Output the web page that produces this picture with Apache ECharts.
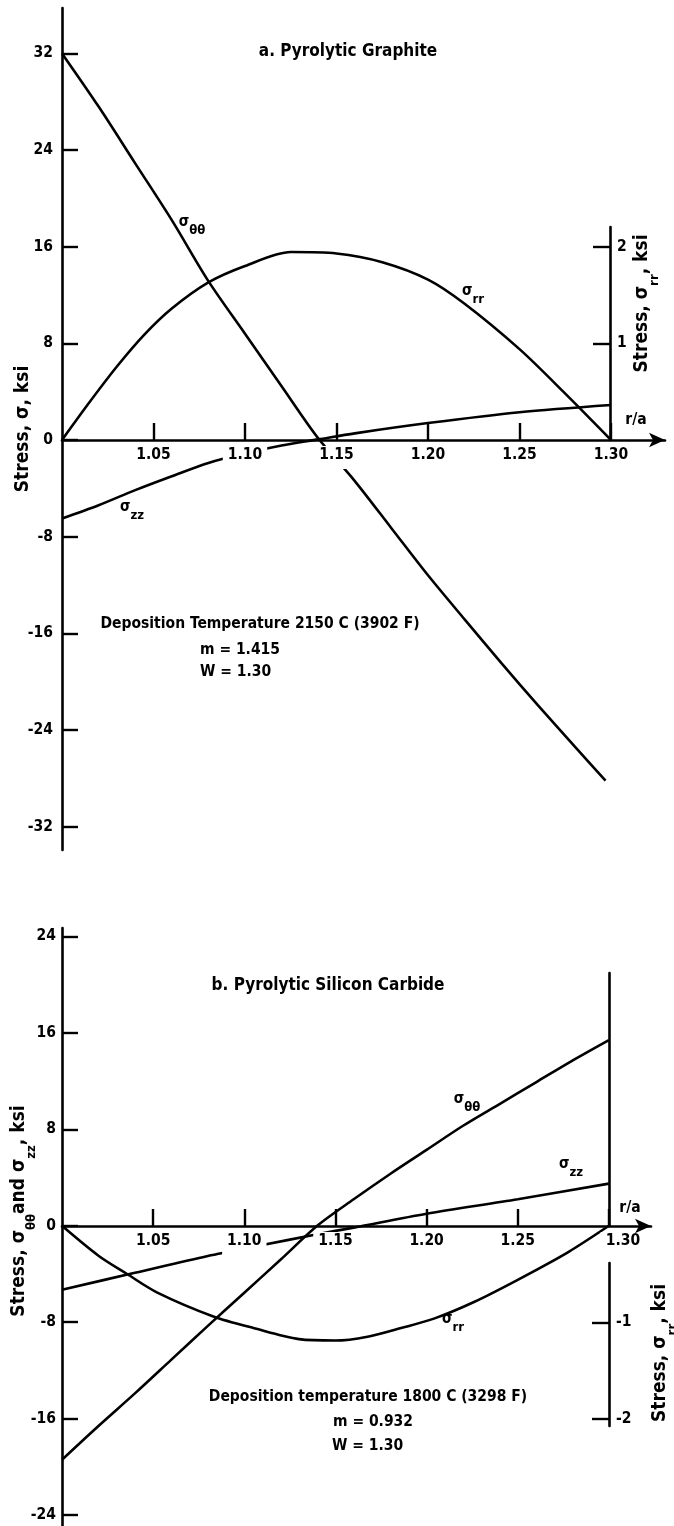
<!DOCTYPE html>
<html><head><meta charset="utf-8">
<script src="https://cdn.jsdelivr.net/npm/echarts@6/dist/echarts.min.js"></script>
<style>html,body{margin:0;padding:0;background:#fff}#c{width:674px;height:1526px}</style>
</head><body><div id="c"></div>
<script>
// ---- tick labels ----
const xTicks = [1.05, 1.10, 1.15, 1.20, 1.25, 1.30];
const aYTicks = [-32, -24, -16, -8, 0, 8, 16, 24, 32];
const aRrTicks = [1, 2];
const bYTicks = [-24, -16, -8, 0, 8, 16, 24];
const bRrTicks = [-1, -2];

// ---- a. Pyrolytic Graphite ----
const aThetaR = [1.00, 1.02, 1.04, 1.06, 1.08, 1.10, 1.12, 1.14, 1.16, 1.18, 1.20, 1.22, 1.24, 1.26, 1.28, 1.297];
const aThetaV = [32.0, 27.6, 22.9, 18.2, 13.15, 8.8, 4.45, 0.14, -3.4, -7.3, -11.2, -14.85, -18.45, -21.95, -25.35, -28.2];
const aRrR = [1.00, 1.015, 1.03, 1.045, 1.06, 1.08, 1.10, 1.125, 1.15, 1.175, 1.20, 1.22, 1.25, 1.275, 1.30];
const aRrV = [0, 0.39, 0.76, 1.09, 1.36, 1.63, 1.80, 1.945, 1.93, 1.84, 1.66, 1.41, 0.94, 0.48, 0];
const aZzR = [1.00, 1.02, 1.04, 1.06, 1.08, 1.10, 1.12, 1.14, 1.16, 1.20, 1.25, 1.30];
const aZzV = [-6.5, -5.4, -4.15, -3.0, -1.9, -1.1, -0.45, 0.05, 0.55, 1.4, 2.3, 2.9];

// ---- b. Pyrolytic Silicon Carbide ----
const bThetaR = [1.00, 1.02, 1.04, 1.06, 1.08, 1.10, 1.12, 1.14, 1.16, 1.18, 1.20, 1.22, 1.24, 1.26, 1.28, 1.30];
const bThetaV = [-19.4, -16.6, -13.9, -11.1, -8.3, -5.55, -2.8, 0, 2.2, 4.3, 6.3, 8.3, 10.1, 11.9, 13.7, 15.4];
const bRrR = [1.00, 1.02, 1.0357, 1.052, 1.083, 1.105, 1.13, 1.15, 1.1676, 1.186, 1.2044, 1.226, 1.25, 1.2775, 1.30];
const bRrV = [0, -0.31, -0.5, -0.69, -0.94, -1.06, -1.175, -1.19, -1.15, -1.06, -0.96, -0.79, -0.56, -0.275, 0];
const bZzR = [1.00, 1.04, 1.08, 1.11, 1.14, 1.16, 1.20, 1.25, 1.30];
const bZzV = [-5.3, -3.9, -2.5, -1.6, -0.7, -0.15, 1.0, 2.2, 3.5];

const RR_RATIO = 8; // right-hand sigma_rr scale: 1 ksi spans 8 ksi of the left scale
const A_MIN = -33.94, A_MAX = 35.76;
const B_MIN = -24.9, B_MAX = 24.7;
const A_XMAX = 1.3295, B_XMAX = 1.3231;

const FONT = "'DejaVu Sans Condensed','Liberation Sans Narrow','DejaVu Sans',sans-serif";
const BASE = { fontFamily: FONT, fontWeight: 'bold', color: '#000' };
const pairs = (r, v) => r.map((x, i) => [x, v[i]]);

function subRich(main, sub, lhMain, lhSub) {
  return {
    t: Object.assign({ fontSize: main, lineHeight: lhMain, verticalAlign: 'top' }, BASE),
    s: Object.assign({ fontSize: sub, lineHeight: lhSub, verticalAlign: 'bottom' }, BASE)
  };
}

function xVisible(grid, max, shiftLast) {
  return {
    type: 'value', gridIndex: grid, min: 1, max: max, z: 5, position: 'bottom',
    axisLine: { show: true, onZero: false, symbol: ['none', 'arrow'], symbolSize: [11, 16],
      lineStyle: { color: '#000', width: 2.6 } },
    axisTick: { show: true, inside: true, length: 17, customValues: xTicks,
      lineStyle: { color: '#000', width: 2.4 } },
    axisLabel: { show: true, customValues: xTicks, margin: 6,
      formatter: v => (shiftLast && Math.abs(v - 1.3) < 1e-6 ? '{sp| }' : '') + '{n|' + v.toFixed(2) + '}',
      rich: {
        n: Object.assign({ fontSize: 15.5, backgroundColor: '#fff', padding: [1, 5, 6, 5] }, BASE),
        sp: { width: 28, fontSize: 10 }
      } },
    splitLine: { show: false }
  };
}
function xHidden(grid, max) {
  return { type: 'value', gridIndex: grid, min: 1, max: max, show: false };
}
function yLeft(grid, min, max, ticks, name, gap, pad, margin) {
  return {
    type: 'value', gridIndex: grid, min: min, max: max, position: 'left',
    axisLine: { show: true, onZero: false, lineStyle: { color: '#000', width: 2.6 } },
    axisTick: { show: true, inside: true, length: 16, customValues: ticks,
      lineStyle: { color: '#000', width: 2.4 } },
    axisLabel: Object.assign({ show: true, customValues: ticks, margin: margin, fontSize: 15.5 }, BASE),
    splitLine: { show: false },
    name: name, nameLocation: 'middle', nameRotate: 90, nameGap: gap, nameMoveOverlap: false,
    nameTextStyle: { rich: subRich(19, 13, 20, 28), padding: pad }
  };
}
function yRight(grid, min, max, ticks, name, gap, pad) {
  const o = {
    type: 'value', gridIndex: grid, min: min, max: max, position: 'right',
    axisLine: { show: true, onZero: false, lineStyle: { color: '#000', width: 2.6 } },
    axisTick: { show: ticks.length > 0, inside: true, length: 17, customValues: ticks,
      lineStyle: { color: '#000', width: 2.4 } },
    axisLabel: Object.assign({ show: ticks.length > 0, customValues: ticks, margin: 7, fontSize: 15.5 }, BASE),
    splitLine: { show: false }
  };
  if (name) {
    o.name = name; o.nameLocation = 'middle'; o.nameRotate = 90; o.nameGap = gap;
    o.nameMoveOverlap = false;
    o.nameTextStyle = { rich: subRich(19, 13, 20, 28), padding: pad };
  }
  return o;
}
function yHidden(grid, min, max) {
  return { type: 'value', gridIndex: grid, min: min, max: max, show: false };
}
function line(xi, yi, r, v) {
  return { type: 'line', xAxisIndex: xi, yAxisIndex: yi, data: pairs(r, v), showSymbol: false,
    smooth: 0.3, z: 2, lineStyle: { color: '#000', width: 2.6 }, silent: true };
}
function txt(x, y, text, size, align, rich) {
  const style = { text: text, x: 0, y: 0, fontSize: size, align: align || 'center',
    verticalAlign: 'middle', fill: '#000', fontFamily: FONT, fontWeight: 'bold' };
  if (rich) style.rich = rich;
  return { type: 'text', x: x, y: y, style: style, z: 10 };
}
const sigRich = {
  t: { fontSize: 15, lineHeight: 15, verticalAlign: 'top', fontFamily: FONT, fontWeight: 'bold', fill: '#000' },
  s: { fontSize: 13, lineHeight: 23, verticalAlign: 'bottom', fontFamily: FONT, fontWeight: 'bold', fill: '#000' }
};

const option = {
  backgroundColor: '#fff',
  animation: false,
  grid: [
    { left: 62, top: 8, width: 603, height: 842, outerBoundsMode: 'none' },        // 0 a main
    { left: 62, top: 227, width: 548, height: 213, outerBoundsMode: 'none' },      // 1 a sigma_rr axis
    { left: 62, top: 300, width: 603, height: 140, outerBoundsMode: 'none' },      // 2 a r/a axis
    { left: 62, top: 928, width: 589, height: 598, outerBoundsMode: 'none' },      // 3 b main
    { left: 62, top: 973, width: 547, height: 253, outerBoundsMode: 'none' },      // 4 b W line
    { left: 62, top: 1263, width: 547, height: 163, outerBoundsMode: 'none' },     // 5 b sigma_rr axis
    { left: 62, top: 1100, width: 589, height: 126, outerBoundsMode: 'none' }      // 6 b r/a axis
  ],
  xAxis: [
    xHidden(0, A_XMAX),
    xHidden(1, 1.3),
    xVisible(2, A_XMAX, false),
    xHidden(3, B_XMAX),
    xHidden(4, 1.3),
    xHidden(5, 1.3),
    xVisible(6, B_XMAX, true)
  ],
  yAxis: [
    yLeft(0, A_MIN, A_MAX, aYTicks, '{t|Stress, σ, ksi}', 28, [0, 0, 0, 0], 9),
    yHidden(0, A_MIN / RR_RATIO, A_MAX / RR_RATIO),
    yRight(1, 0, 213 / 96.64, aRrTicks, '{t|Stress, σ}{s|rr}{t|, ksi}', 23, [0, 0, 0, 60]),
    yHidden(2, 0, 1),
    yLeft(3, B_MIN, B_MAX, bYTicks, '{t|Stress, σ}{s|θθ}{t|and σ}{s|zz}{t|, ksi}', 24, [0, 0, 0, 32], 6),
    yHidden(3, B_MIN / RR_RATIO, B_MAX / RR_RATIO),
    yRight(4, 0, 1, [], null, 0, 0),
    yRight(5, -2.075, -0.384, bRrTicks, '{t|Stress, σ}{s|rr}{t|, ksi}', 42, [0, 17, 0, 0]),
    yHidden(6, 0, 1)
  ],
  series: [
    line(0, 0, aThetaR, aThetaV),
    line(0, 1, aRrR, aRrV),
    line(0, 0, aZzR, aZzV),
    line(3, 4, bThetaR, bThetaV),
    line(3, 5, bRrR, bRrV),
    line(3, 4, bZzR, bZzV)
  ],
  graphic: [
    txt(348, 52, 'a. Pyrolytic Graphite', 17),
    txt(260, 624, 'Deposition Temperature 2150 C (3902 F)', 15.5),
    txt(200, 650, 'm = 1.415', 15.5, 'left'),
    txt(200, 672, 'W = 1.30', 15.5, 'left'),
    txt(192, 226, '{t|σ}{s|θθ}', 15, 'center', sigRich),
    txt(473, 295, '{t|σ}{s|rr}', 15, 'center', sigRich),
    txt(132, 511, '{t|σ}{s|zz}', 15, 'center', sigRich),
    txt(636, 420, 'r/a', 15.5),
    txt(328, 986, 'b. Pyrolytic Silicon Carbide', 17),
    txt(368, 1397, 'Deposition temperature 1800 C (3298 F)', 15.5),
    txt(333, 1422, 'm = 0.932', 15.5, 'left'),
    txt(332, 1446, 'W = 1.30', 15.5, 'left'),
    txt(467, 1103, '{t|σ}{s|θθ}', 15, 'center', sigRich),
    txt(571, 1168, '{t|σ}{s|zz}', 15, 'center', sigRich),
    txt(453, 1323, '{t|σ}{s|rr}', 15, 'center', sigRich),
    txt(630, 1208, 'r/a', 15.5)
  ]
};
const chart = echarts.init(document.getElementById('c'));
chart.setOption(option);
</script></body></html>
